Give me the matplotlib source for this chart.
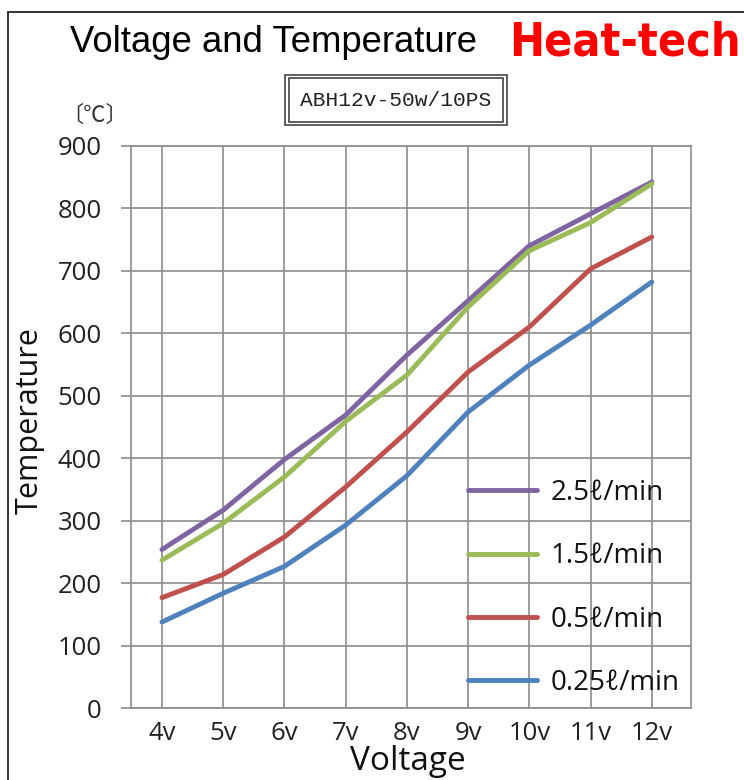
import matplotlib
matplotlib.use("Agg")
import matplotlib.pyplot as plt
from matplotlib import patches

categories = ["4v", "5v", "6v", "7v", "8v", "9v", "10v", "11v", "12v"]
flow_2_5 = [254, 317, 398, 469, 565, 652, 740, 791, 842]
flow_1_5 = [237, 296, 370, 459, 533, 642, 732, 777, 839]
flow_0_5 = [177, 214, 274, 354, 442, 538, 610, 703, 754]
flow_0_25 = [138, 184, 227, 293, 372, 474, 549, 613, 682]
series_labels = ["2.5ℓ/min", "1.5ℓ/min", "0.5ℓ/min", "0.25ℓ/min"]
series_colors = ["#8064a2", "#9bbb59", "#c0504d", "#4f81bd"]
yticks = [0, 100, 200, 300, 400, 500, 600, 700, 800, 900]

W, H = 744, 780
fig = plt.figure(figsize=(W / 100, H / 100), dpi=100)
fig.patch.set_facecolor("white")

def fx(px):
    return px / W

def fy(py):
    return 1 - py / H

ax = fig.add_axes([fx(130.7), fy(708.3), fx(691) - fx(130.7), fy(145.7) - fy(708.3)])
x = list(range(len(categories)))
grid_c = "#8c8c8c"
for vals, lab, col in zip([flow_2_5, flow_1_5, flow_0_5, flow_0_25], series_labels, series_colors):
    ax.plot(x, vals, color=col, lw=3.5, label=lab, solid_capstyle="round", zorder=3)

ax.set_xlim(-0.51, len(categories) - 1 + 0.64)
ax.set_ylim(0, 900)
ax.set_yticks(yticks)
ax.set_xticks(x)
ax.set_xticklabels(categories)
ax.grid(True, color=grid_c, lw=1.2)
ax.set_axisbelow(True)
for s in ax.spines.values():
    s.set_color(grid_c)
    s.set_linewidth(1.2)
ax.tick_params(axis="y", length=7, color=grid_c, width=1.2, pad=14,
               labelsize=18.5, labelcolor="#222222")
ax.tick_params(axis="x", length=0, pad=9, labelsize=18.5, labelcolor="#222222")
for lbl in ax.get_xticklabels() + ax.get_yticklabels():
    lbl.set_fontfamily(["Open Sans", "DejaVu Sans"])

fig.text(fx(408), fy(762), "Voltage", ha="center", va="center", fontsize=24,
         family=["Open Sans", "DejaVu Sans"], color="#111111")
fig.text(fx(30), fy(421), "Temperature", ha="center", va="center", fontsize=22,
         rotation=90, family=["Open Sans", "DejaVu Sans"], color="#111111")

leg = ax.legend(loc="upper left", bbox_to_anchor=(fx(468), fy(479)),
                bbox_transform=fig.transFigure, frameon=False, borderpad=0,
                borderaxespad=0, handlelength=2.5, handletextpad=0.48,
                labelspacing=1.27, prop={"family": ["Open Sans", "DejaVu Sans"], "size": 20})
for t in leg.get_texts():
    t.set_color("#111111")

fig.text(fx(274), fy(43), "Voltage and Temperature", ha="center", va="center",
         fontsize=26.3, family=["Liberation Sans", "DejaVu Sans"], color="black")
fig.text(fx(625), fy(43), "Heat-tech", ha="center", va="center", fontsize=33.5,
         fontweight="bold", fontstretch="condensed",
         family=["DejaVu Sans"], color="#ff0000")

# double framed box
fig.add_artist(patches.Rectangle((fx(285), fy(125)), fx(507) - fx(285), fy(75) - fy(125),
               transform=fig.transFigure, fill=False, ec="#444444", lw=1.2))
fig.add_artist(patches.Rectangle((fx(289), fy(121.5)), fx(503) - fx(289), fy(78.5) - fy(121.5),
               transform=fig.transFigure, fill=False, ec="#444444", lw=1.2))
fig.text(fx(396), fy(101), "ABH12v-50w/10PS", ha="center", va="center", fontsize=15.3,
         family=["Liberation Mono", "DejaVu Sans Mono"], color="#222222")
fig.text(fx(95), fy(115), "〔℃〕", ha="center", va="center", fontsize=16,
         family=["Noto Sans CJK JP", "DejaVu Sans"], color="#333333")

# outer border
fig.add_artist(patches.Rectangle((fx(8.3), -0.1), 1.2, fy(12.3) + 0.1,
               transform=fig.transFigure, fill=False, ec="#333333", lw=1.4))

fig.savefig("out.png", dpi=100)
